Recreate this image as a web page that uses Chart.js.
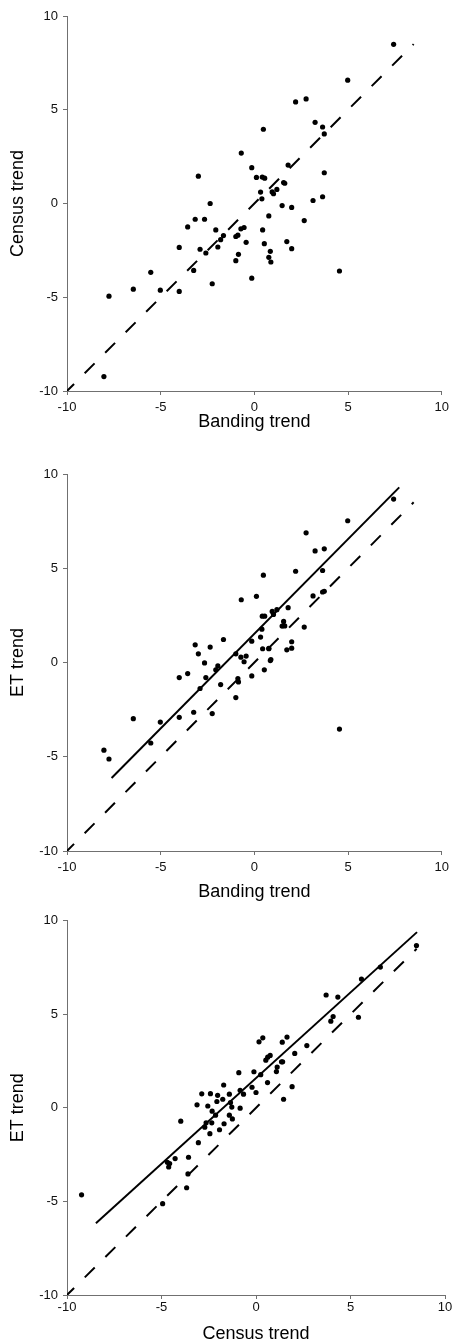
<!doctype html>
<html lang="en">
<head>
<meta charset="utf-8">
<title>Banding, census and ET trends</title>
<script src="https://cdn.jsdelivr.net/npm/chart.js@4.4.1/dist/chart.umd.min.js"></script>
<style>
  html, body { margin: 0; padding: 0; background: #fff; }
  canvas { display: block; }
</style>
</head>
<body>
<canvas id="c1" width="454" height="440"></canvas>
<canvas id="c2" width="454" height="465"></canvas>
<canvas id="c3" width="454" height="439"></canvas>
<script>
// one entry per site: banding trend, census trend, ET trend
const banding = [-8.03, -7.76, -6.46, -5.53, -5.02, -4.01, -4.01, -3.56, -3.24, -3.16,
  -2.99, -2.90, -2.66, -2.59, -2.36, -2.25, -2.06, -1.95, -1.80, -1.65,
  -0.99, -0.99, -0.88, -0.85, -0.72, -0.70, -0.55, -0.44, -0.14, -0.14,
  0.11, 0.33, 0.40, 0.42, 0.44, 0.48, 0.53, 0.55, 0.77, 0.77,
  0.85, 0.88, 0.95, 1.02, 1.20, 1.48, 1.56, 1.62, 1.73, 1.80,
  1.99, 1.99, 2.20, 2.66, 2.76, 3.13, 3.24, 3.64, 3.64, 3.73,
  3.73, 4.54, 4.98, 7.43];
const census = [-9.23, -4.94, -4.57, -3.67, -4.62, -2.34, -4.69, -1.25, -3.57, -0.84,
  1.46, -2.44, -0.84, -2.64, 0.00, -4.28, -1.41, -2.32, -1.93, -1.71,
  -1.76, -3.05, -1.69, -2.71, -1.35, 2.69, -1.28, -2.07, 1.91, -3.98,
  1.39, 0.61, 0.25, 1.41, -1.41, 3.96, -2.14, 1.35, -0.66, -2.87,
  -2.55, -3.12, 0.62, 0.52, 0.75, -0.11, 1.12, 1.08, -2.03, 2.05,
  -0.21, -2.41, 5.42, -0.91, 5.58, 0.16, 4.33, 4.08, 0.36, 3.71,
  1.64, -3.60, 6.58, 8.49];
const et = [-4.65, -5.12, -2.98, -4.27, -3.16, -0.80, -2.91, -0.59, -2.64, 0.94,
  0.46, -1.38, -0.02, -0.80, 0.82, -2.71, -0.39, -0.18, -1.17, 1.22,
  0.46, -1.86, -0.85, -1.03, 0.28, 3.33, 0.04, 0.34, 1.13, -0.71,
  3.51, 1.35, 1.77, 2.46, 0.73, 4.63, -0.39, 2.46, 0.73, 0.75,
  0.10, 0.16, 2.71, 2.55, 2.80, 1.93, 2.18, 1.94, 0.67, 2.91,
  1.10, 0.76, 4.84, 1.88, 6.88, 3.53, 5.92, 4.88, 3.74, 6.03,
  3.78, -3.53, 7.52, 8.67];

// 1:1 reference line and fitted lines (end points)
const refX = [-10, 8.5];
const refY = [-10, 8.5];
const fitBandEtX = [-7.62, 7.73];
const fitBandEtY = [-6.13, 9.29];
const fitCensusEtX = [-8.47, 8.52];
const fitCensusEtY = [-6.17, 9.39];

const axisColor = '#707070';
Chart.defaults.font.family = 'Arial, "Liberation Sans", sans-serif';
Chart.defaults.color = '#111';

function pts(xs, ys) {
  return xs.map((x, i) => ({ x: x, y: ys[i] }));
}

function panel(id, xs, ys, xTitle, yTitle, fit, box) {
  const canvas = document.getElementById(id);
  const datasets = [
    { data: pts(xs, ys), pointRadius: 2.6, pointBackgroundColor: '#000', pointBorderWidth: 0, showLine: false },
    { data: pts(refX, refY), showLine: true, borderColor: '#000', borderWidth: 2, borderDash: [14, 15], borderDashOffset: 4, pointRadius: 0 }
  ];
  if (fit) {
    datasets.push({ data: pts(fit[0], fit[1]), showLine: true, borderColor: '#000', borderWidth: 2, pointRadius: 0 });
  }
  new Chart(canvas, {
    type: 'scatter',
    data: { datasets: datasets },
    options: {
      responsive: false,
      animation: false,
      events: [],
      layout: { padding: { top: box.top, right: 9, left: 0, bottom: 0 } },
      plugins: { legend: { display: false }, tooltip: { enabled: false } },
      scales: {
        x: {
          min: -10, max: 10,
          ticks: { stepSize: 5, padding: box.tickPad, maxRotation: 0, font: { size: 13 } },
          grid: { drawOnChartArea: false, tickLength: 4, color: axisColor },
          border: { color: axisColor },
          title: { display: true, text: xTitle, color: '#000', font: { size: 18, lineHeight: 1 }, padding: { top: 0, bottom: box.titlePad } },
          afterFit: s => { s.height = canvas.height - box.bottom; }
        },
        y: {
          min: -10, max: 10,
          ticks: { stepSize: 5, padding: 5, font: { size: 13 } },
          grid: { drawOnChartArea: false, tickLength: 4, color: axisColor },
          border: { color: axisColor },
          title: { display: true, text: yTitle, color: '#000', font: { size: 18, lineHeight: 1 }, padding: { top: 9.5, bottom: 0 } },
          afterFit: s => { s.width = 67; }
        }
      }
    }
  });
}

panel('c1', banding, census, 'Banding trend', 'Census trend', null,
  { top: 16, bottom: 391, tickPad: 5, titlePad: 9.3 });
panel('c2', banding, et, 'Banding trend', 'ET trend', [fitBandEtX, fitBandEtY],
  { top: 34, bottom: 411, tickPad: 5, titlePad: 4.3 });
panel('c3', census, et, 'Census trend', 'ET trend', [fitCensusEtX, fitCensusEtY],
  { top: 15.7, bottom: 390, tickPad: 1, titlePad: 0.6 });
</script>
</body>
</html>
